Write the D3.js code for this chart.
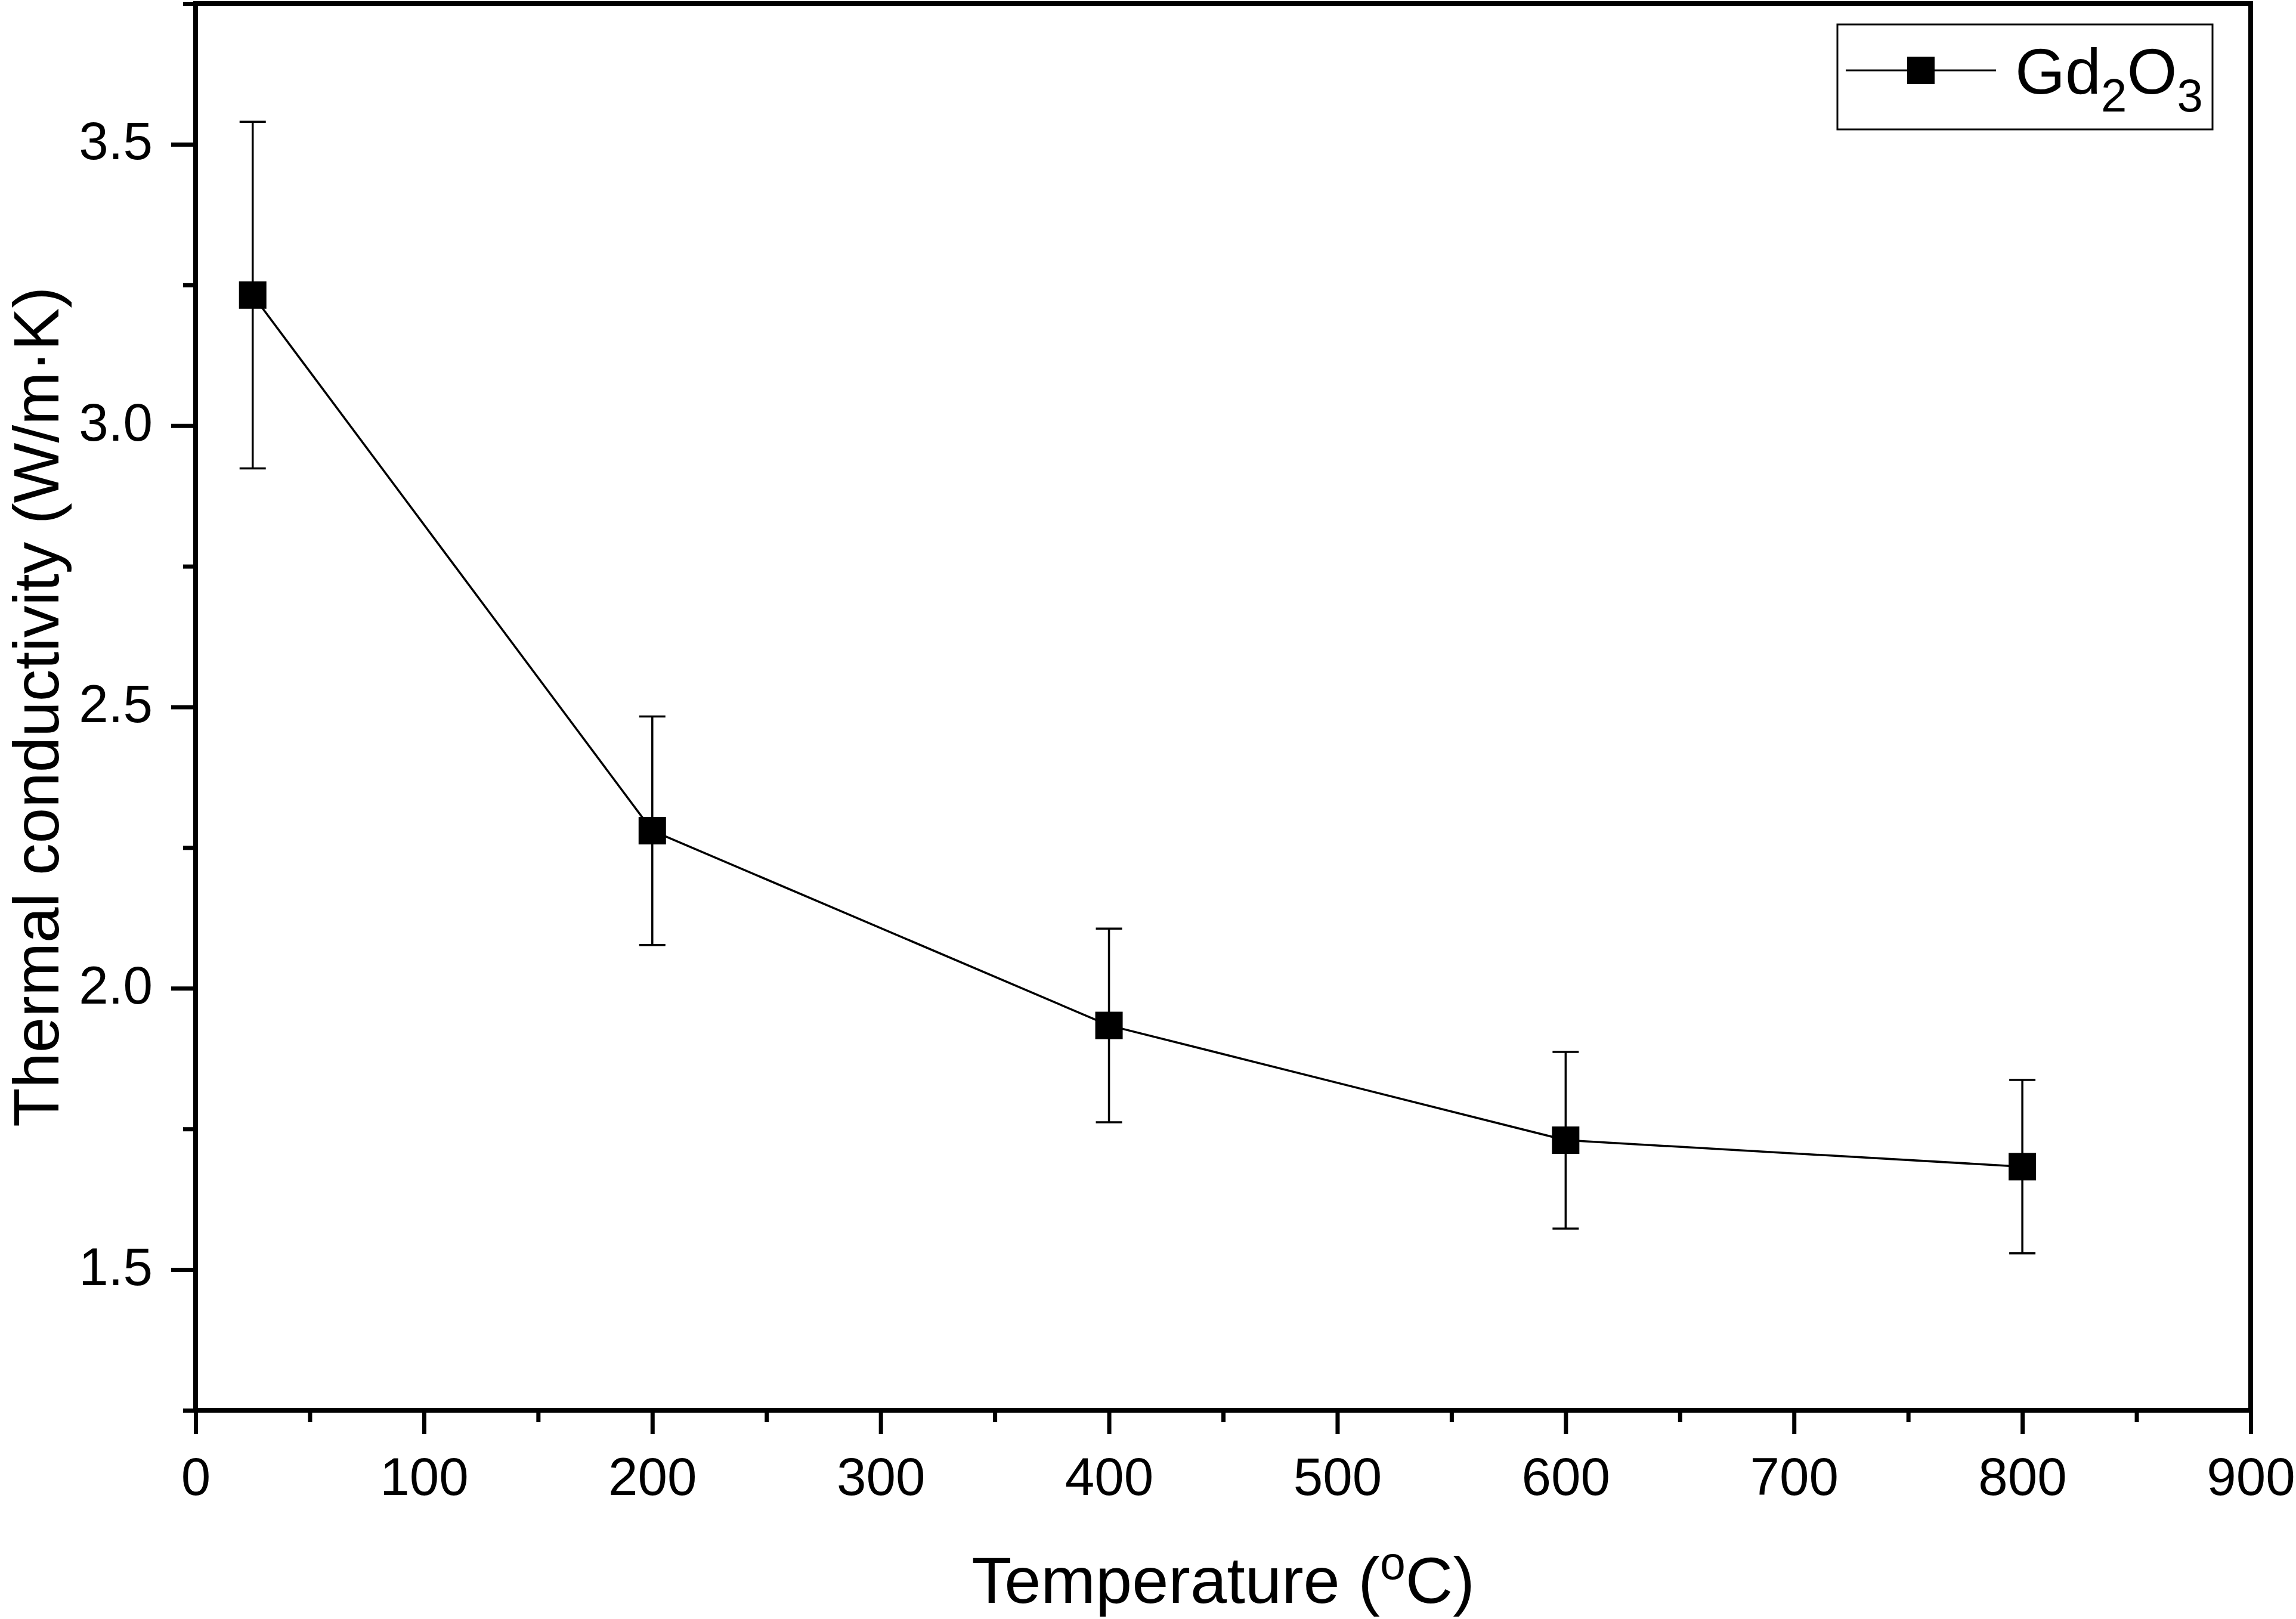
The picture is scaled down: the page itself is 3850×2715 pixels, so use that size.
<!DOCTYPE html>
<html>
<head>
<meta charset="utf-8">
<script src="https://cdn.jsdelivr.net/npm/d3@7"></script>
<style>
  body { margin: 0; background: #fff; }
  svg { display: block; font-family: "Liberation Sans", Arial, sans-serif; }
</style>
</head>
<body>
<div class="chart"></div>
<script>
// data
const temperature = [25, 200, 400, 600, 800];
const conductivity = [3.232, 2.280, 1.934, 1.730, 1.683];
const errorBar = [0.308, 0.203, 0.172, 0.157, 0.154];

const xTicks = [0, 100, 200, 300, 400, 500, 600, 700, 800, 900];
const xMinorTicks = [50, 150, 250, 350, 450, 550, 650, 750, 850];
const yTicks = [1.5, 2.0, 2.5, 3.0, 3.5];
const yMinorTicks = [1.25, 1.75, 2.25, 2.75, 3.25, 3.75];

const seriesName = "Gd";

const width = 3850;
const height = 2715;
const plot = { left: 328, right: 3774, top: 6, bottom: 2365 };

const points = temperature.map((t, i) => ({
    t: t,
    k: conductivity[i],
    err: errorBar[i]
}));

// scales
const x = d3.scaleLinear()
    .domain([0, 900])
    .range([plot.left, plot.right]);
const y = d3.scaleLinear()
    .domain([1.25, 3.75])
    .range([plot.bottom, plot.top]);

const svg = d3.select(".chart")
    .append("svg")
    .attr("width", width)
    .attr("height", height);

svg.append("rect")
    .attr("width", width)
    .attr("height", height)
    .attr("fill", "#fff");

// axes, major + minor ticks
const xAxis = d3.axisBottom(x).tickValues(xTicks).tickSize(40).tickPadding(36).tickFormat(d3.format("d"));
const xAxisMinor = d3.axisBottom(x).tickValues(xMinorTicks).tickSize(20).tickFormat("");
const yAxis = d3.axisLeft(y).tickValues(yTicks).tickSize(41).tickPadding(31).tickFormat(d3.format(".1f"));
const yAxisMinor = d3.axisLeft(y).tickValues(yMinorTicks).tickSize(21).tickFormat("");

function styleAxis(g) {
    g.select(".domain").remove();
    g.selectAll(".tick line").attr("stroke", "#000").attr("stroke-width", 7);
    g.selectAll(".tick text")
        .attr("fill", "#000")
        .attr("font-size", 89)
        .attr("font-family", "'Liberation Sans', Arial, sans-serif");
}

svg.append("g")
    .attr("class", "xAxis")
    .attr("transform", `translate(0, ${plot.bottom})`)
    .call(xAxis)
    .call(styleAxis)
    .selectAll(".tick text")
    .attr("dy", null)
    .attr("y", 142);

svg.append("g")
    .attr("class", "xAxisMinor")
    .attr("transform", `translate(0, ${plot.bottom})`)
    .call(xAxisMinor)
    .call(styleAxis);

svg.append("g")
    .attr("class", "yAxis")
    .attr("transform", `translate(${plot.left}, 0)`)
    .call(yAxis)
    .call(styleAxis)
    .selectAll(".tick text")
    .attr("dy", 25)
    .attr("x", -72);

svg.append("g")
    .attr("class", "yAxisMinor")
    .attr("transform", `translate(${plot.left}, 0)`)
    .call(yAxisMinor)
    .call(styleAxis);

// frame
svg.append("rect")
    .attr("x", plot.left)
    .attr("y", plot.top)
    .attr("width", plot.right - plot.left)
    .attr("height", plot.bottom - plot.top)
    .attr("fill", "none")
    .attr("stroke", "#000")
    .attr("stroke-width", 8);

// axis titles
svg.append("text")
    .attr("x", (plot.left + plot.right) / 2)
    .attr("y", 2688)
    .attr("text-anchor", "middle")
    .attr("font-size", 110)
    .attr("fill", "#000")
    .call(t => {
        t.append("tspan").text("Temperature (");
        t.append("tspan").attr("font-size", 77).attr("dy", -40).text("o");
        t.append("tspan").attr("dy", 40).text("C)");
    });

svg.append("text")
    .attr("transform", `translate(98, ${(plot.top + plot.bottom) / 2}) rotate(-90)`)
    .attr("text-anchor", "middle")
    .attr("font-size", 107)
    .attr("fill", "#000")
    .text("Thermal conductivity (W/m\u00B7K)");

// line
const line = d3.line()
    .x(d => x(d.t))
    .y(d => y(d.k));

svg.append("path")
    .datum(points)
    .attr("fill", "none")
    .attr("stroke", "#000")
    .attr("stroke-width", 3.5)
    .attr("stroke-linejoin", "round")
    .attr("d", line);

// error bars
const capHalf = 22;
const errG = svg.append("g")
    .attr("stroke", "#000")
    .attr("stroke-width", 3.5);

errG.selectAll("line.err")
    .data(points)
    .join("line")
    .attr("class", "err")
    .attr("x1", d => x(d.t))
    .attr("x2", d => x(d.t))
    .attr("y1", d => y(d.k + d.err))
    .attr("y2", d => y(d.k - d.err));

errG.selectAll("line.capTop")
    .data(points)
    .join("line")
    .attr("class", "capTop")
    .attr("x1", d => x(d.t) - capHalf)
    .attr("x2", d => x(d.t) + capHalf)
    .attr("y1", d => y(d.k + d.err))
    .attr("y2", d => y(d.k + d.err));

errG.selectAll("line.capBottom")
    .data(points)
    .join("line")
    .attr("class", "capBottom")
    .attr("x1", d => x(d.t) - capHalf)
    .attr("x2", d => x(d.t) + capHalf)
    .attr("y1", d => y(d.k - d.err))
    .attr("y2", d => y(d.k - d.err));

// square markers
const markerSize = 46;
svg.selectAll("rect.marker")
    .data(points)
    .join("rect")
    .attr("class", "marker")
    .attr("x", d => x(d.t) - markerSize / 2)
    .attr("y", d => y(d.k) - markerSize / 2)
    .attr("width", markerSize)
    .attr("height", markerSize)
    .attr("fill", "#000");

// legend
const legend = svg.append("g").attr("class", "legend");
legend.append("rect")
    .attr("x", 3081)
    .attr("y", 41)
    .attr("width", 629)
    .attr("height", 176)
    .attr("fill", "#fff")
    .attr("stroke", "#000")
    .attr("stroke-width", 3);
legend.append("line")
    .attr("x1", 3095)
    .attr("x2", 3347)
    .attr("y1", 118)
    .attr("y2", 118)
    .attr("stroke", "#000")
    .attr("stroke-width", 3);
legend.append("rect")
    .attr("x", 3221 - markerSize / 2)
    .attr("y", 118 - markerSize / 2)
    .attr("width", markerSize)
    .attr("height", markerSize)
    .attr("fill", "#000");
legend.append("text")
    .attr("x", 3379)
    .attr("y", 157)
    .attr("font-size", 108)
    .attr("fill", "#000")
    .call(t => {
        t.append("tspan").text(seriesName);
        t.append("tspan").attr("font-size", 78).attr("dy", 30).text("2");
        t.append("tspan").attr("dy", -30).text("O");
        t.append("tspan").attr("font-size", 78).attr("dy", 30).text("3");
    });
</script>
</body>
</html>
